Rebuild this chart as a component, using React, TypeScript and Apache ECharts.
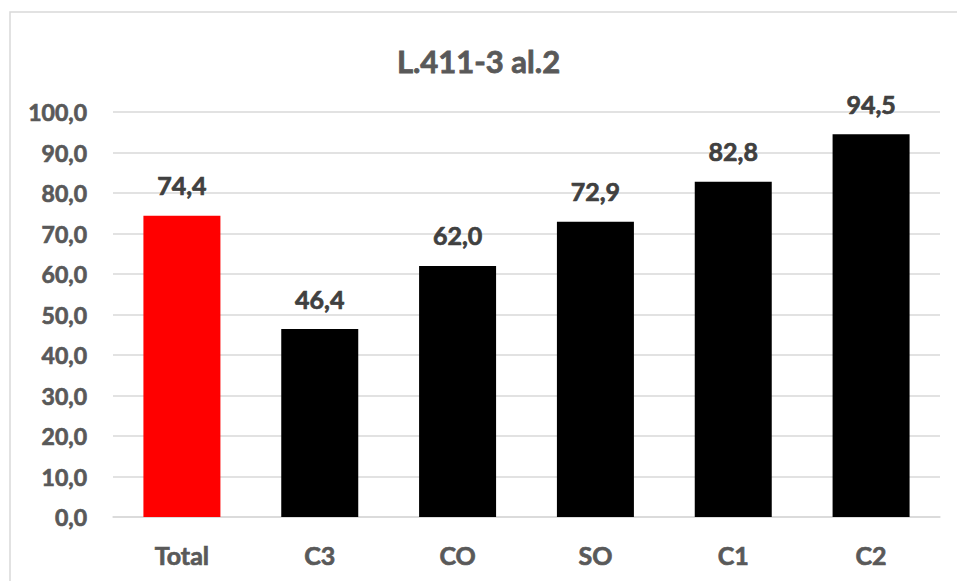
import React, { useEffect, useRef } from "react";
import * as echarts from "echarts";

const categories = ["Total", "C3", "CO", "SO", "C1", "C2"];
const values = [74.4, 46.4, 62.0, 72.9, 82.8, 94.5];
const barColors = ["#ff0000", "#000000", "#000000", "#000000", "#000000", "#000000"];
const titleText = "L.411-3 al.2";

const fmt = (v: number) => v.toFixed(1).replace(".", ",");

export default function App() {
  const ref = useRef<HTMLDivElement>(null);
  useEffect(() => {
    if (!ref.current) return;
    const chart = echarts.init(ref.current, undefined, { renderer: "svg" });
    const font = "Lato, 'Open Sans', sans-serif";
    const grey = "#595959";
    const dark = "#404040";
    chart.setOption({
      animation: false,
      backgroundColor: "#ffffff",
      textStyle: { fontFamily: font },
      title: {
        text: titleText,
        left: "center",
        top: 40,
        textStyle: {
          fontFamily: font,
          fontSize: 31,
          fontWeight: "bold",
          color: grey,
          textBorderColor: grey,
          textBorderWidth: 0.8,
        },
      },
      graphic: [
        {
          type: "rect",
          shape: { x: 10, y: 12, width: 960, height: 600 },
          style: { fill: "none", stroke: "#d9d9d9", lineWidth: 1.5 },
          silent: true,
        },
      ],
      grid: { left: 113, right: 17, top: 112, bottom: 64 },
      xAxis: {
        type: "category",
        data: categories,
        axisLine: { show: true, lineStyle: { color: "#d9d9d9", width: 1.5 } },
        axisTick: { show: false },
        axisLabel: {
          fontFamily: font,
          fontSize: 25,
          fontWeight: "bold",
          color: grey,
          textBorderColor: grey,
          textBorderWidth: 0.7,
          margin: 25,
        },
      },
      yAxis: {
        type: "value",
        min: 0,
        max: 100,
        interval: 10,
        axisLine: { show: false },
        axisTick: { show: false },
        splitLine: { lineStyle: { color: "#d9d9d9", width: 1.5 } },
        axisLabel: {
          fontFamily: font,
          fontSize: 23,
          fontWeight: "bold",
          color: grey,
          textBorderColor: grey,
          textBorderWidth: 0.7,
          margin: 26,
          formatter: (v: number) => fmt(v),
        },
      },
      series: [
        {
          type: "bar",
          barWidth: 77,
          data: values.map((v, i) => ({ value: v, itemStyle: { color: barColors[i] } })),
          label: {
            show: true,
            position: "top",
            distance: 18,
            fontFamily: font,
            fontSize: 25,
            fontWeight: "bold",
            color: dark,
            textBorderColor: dark,
            textBorderWidth: 0.7,
            formatter: (p: any) => fmt(p.value),
          },
        },
      ],
    });
    return () => chart.dispose();
  }, []);
  return (
    <div
      ref={ref}
      style={{ position: "fixed", left: 0, top: 0, width: 957, height: 581 }}
    />
  );
}
